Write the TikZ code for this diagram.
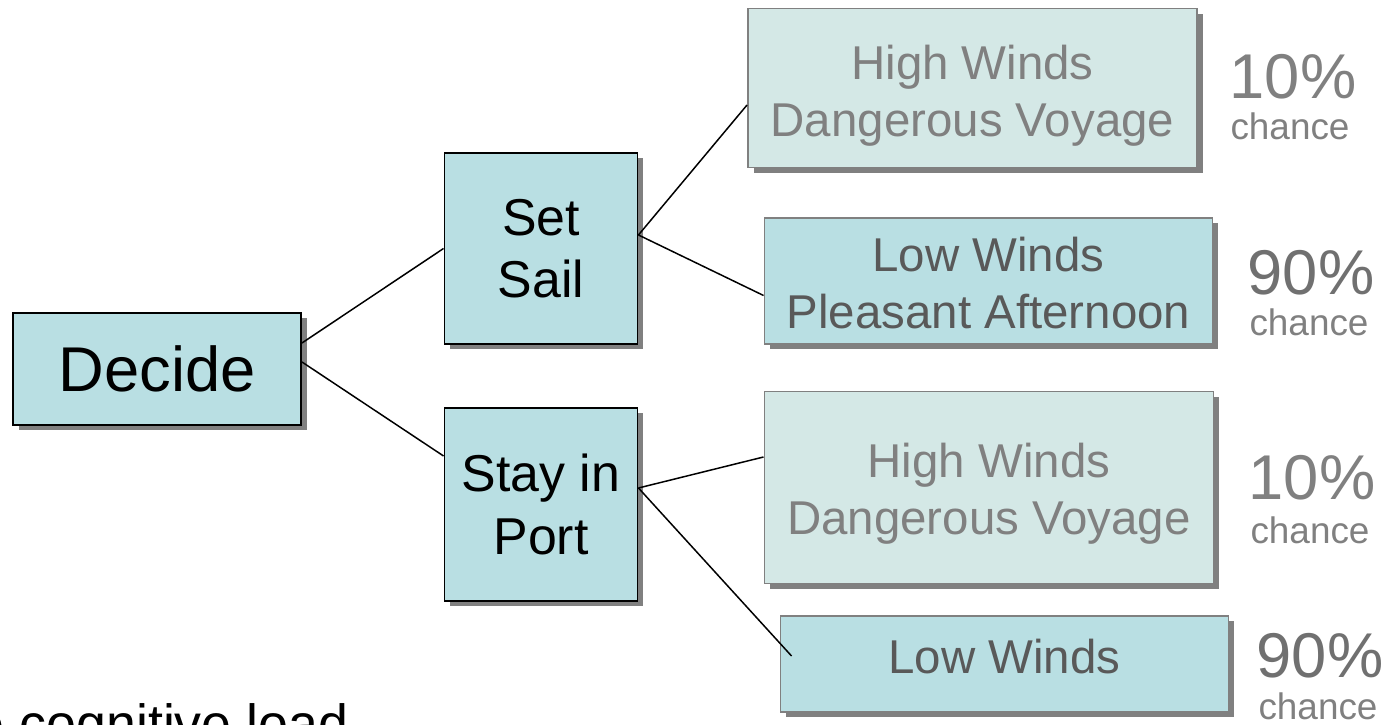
\documentclass[tikz,border=0pt]{standalone}
\usepackage{fontspec}
\setmainfont{Liberation Sans}
\usepackage{tikz}
\usetikzlibrary{shapes,arrows,shadows}
\definecolor{boxcyan}{HTML}{B9DFE3}
\definecolor{boxpale}{HTML}{D4E8E6}
\definecolor{outgray}{HTML}{808080}
\definecolor{lowgray}{HTML}{595959}
\definecolor{pctgray}{HTML}{707070}

\begin{document}
\begin{tikzpicture}[-, >=latex, line width=0.85pt]
      \tikzstyle{choice}=[rectangle, draw=black, line width=1.1pt, fill=boxcyan, align=center, inner sep=0pt,
        drop shadow={shadow xshift=0.11cm, shadow yshift=-0.11cm, fill=outgray, opacity=1}]
      \tikzstyle{outcome}=[choice, draw=outgray]
      \tikzstyle{outtext}=[align=center, inner sep=0pt, font=\fontsize{27}{32.5}\selectfont]
      \tikzstyle{pct}=[anchor=base, inner sep=0pt, font=\fontsize{36}{40}\selectfont]
      \tikzstyle{chance}=[anchor=base, inner sep=0pt, text=outgray, font=\fontsize{21}{24}\selectfont]
      \useasboundingbox (0,0) rectangle (27.94,14.5);
      \clip (0,0) rectangle (27.94,14.5);
      \node[choice, minimum width=5.76cm, minimum height=2.24cm, font=\fontsize{36}{43}\selectfont] (decide) at (3.14,7.12) {Decide};
      \node[choice, minimum width=3.86cm, minimum height=3.82cm, font=\fontsize{29.5}{35}\selectfont] (setsail) at (10.82,9.53) {Set\\Sail};
      \node[choice, minimum width=3.86cm, minimum height=3.86cm, font=\fontsize{29.5}{35.5}\selectfont] (stayport) at (10.82,4.41) {Stay in\\Port};
      % outcome boxes
      \node[outcome, fill=boxpale, minimum width=8.98cm, minimum height=3.18cm] (hw1) at (19.45,12.74) {};
      \node[outcome, minimum width=8.96cm, minimum height=2.52cm] (lwp) at (19.77,8.88) {};
      \node[outcome, fill=boxpale, minimum width=8.98cm, minimum height=3.84cm] (hw2) at (19.78,4.75) {};
      \node[outcome, minimum width=8.96cm, minimum height=1.92cm] (lw) at (20.09,1.22) {};
      \node[outtext, text=outgray, yshift=-0.16cm] (hw1text) at (hw1) {High Winds\\Dangerous Voyage};
      \node[outtext, text=lowgray, yshift=-0.04cm] (lwptext) at (lwp) {Low Winds\\Pleasant Afternoon};
      \node[outtext, text=outgray, yshift=-0.12cm] (hw2text) at (hw2) {High Winds\\Dangerous Voyage};
      \node[outtext, text=lowgray, yshift=0.14cm] (lwtext) at (lw) {Low Winds};
      % chances
      \node[pct, text=outgray] (p1) at (25.86,12.52) {10\%};
      \node[chance] (c1) at (25.80,11.70) {chance};
      \node[pct, text=pctgray] (p2) at (26.22,8.60) {90\%};
      \node[chance] (c2) at (26.18,7.78) {chance};
      \node[pct, text=outgray] (p3) at (26.24,4.50) {10\%};
      \node[chance] (c3) at (26.20,3.62) {chance};
      \node[pct, text=pctgray] (p4) at (26.40,0.94) {90\%};
      \node[chance] (c4) at (26.36,0.10) {chance};
      \node[anchor=base west, inner sep=0pt, font=\fontsize{30.6}{34}\selectfont] (note) at (-0.52,-0.36) {e cognitive load};
      \path
      ([yshift=0.52cm]decide.east) edge (setsail.west)
      ([yshift=0.14cm]decide.east) edge ([yshift=0.97cm]stayport.west)
      ([yshift=0.27cm]setsail.east) edge ([yshift=-0.34cm]hw1.west)
      ([yshift=0.27cm]setsail.east) edge ([yshift=-0.29cm]lwp.west)
      ([yshift=0.33cm]stayport.east) edge ([yshift=0.61cm]hw2.west)
      ([yshift=0.33cm]stayport.east) edge ([xshift=0.24cm, yshift=0.16cm]lw.west);
    \end{tikzpicture}
\end{document}
